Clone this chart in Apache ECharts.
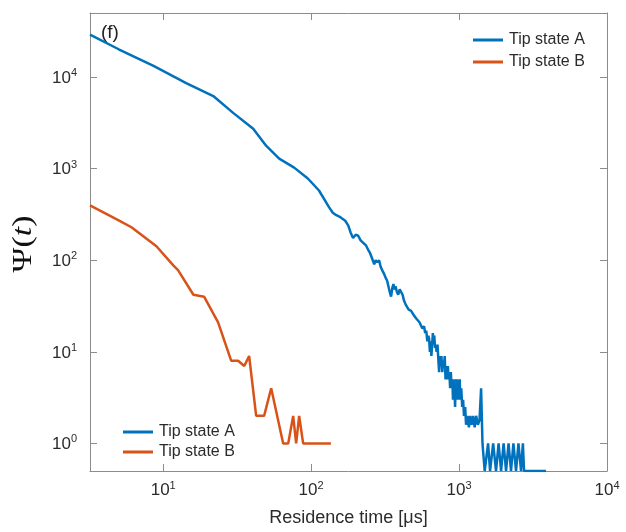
<!DOCTYPE html>
<html><head><meta charset="utf-8">
<script src="https://cdn.jsdelivr.net/npm/echarts@6/dist/echarts.min.js"></script>
<style>html,body{margin:0;padding:0;background:#fff}#c{width:626px;height:532px}</style>
</head><body><div id="c"></div>
<script>
// ---- data ----
const seriesNames = ['Tip state A', 'Tip state B'];
const xAxisTitle = 'Residence time [μs]';
const yAxisTitle = 'Ψ(t)';
const panelLabel = '(f)';
const xRange = [3.2, 10000];
const yRange = [0.5, 50000];

const timeA = [3.2, 5.0, 8.6, 14.3, 21.8, 29.7, 40.6, 49.6, 60.8, 76.8, 95, 113, 132, 140, 148, 155, 162, 170, 178, 185, 192, 200, 208, 216, 225, 235, 243, 250, 258, 267, 273, 280, 288, 295, 302, 310, 318, 326, 333, 340, 347, 354, 360, 366, 372, 380, 388, 397, 406, 415, 425, 435, 445, 455, 465, 474, 485, 495, 505, 515, 527, 540, 554, 565, 580, 590, 600, 610, 620, 627, 635, 642, 650, 658, 665, 672, 680, 688, 695, 705, 715, 725, 733, 742, 750, 760, 770, 780, 790, 800, 810, 820, 830, 840, 850, 860, 870, 880, 890, 900, 910, 920, 930, 940, 950, 960, 970, 980, 990, 1000, 1010, 1020, 1035, 1050, 1065, 1080, 1100, 1115, 1140, 1165, 1190, 1215, 1245, 1275, 1305, 1340, 1375, 1409, 1440, 1453, 1490, 1571, 1620, 1700, 1778, 1850, 1923, 2000, 2078, 2160, 2245, 2330, 2427, 2520, 2624, 2700, 2750, 3870];
const valuesA = [29000, 20100, 13200, 8600, 6200, 4060, 2720, 1780, 1285, 1025, 780, 577, 380, 330, 310, 300, 285, 270, 240, 200, 175, 190, 185, 165, 155, 145, 130, 120, 105, 90, 100, 95, 100, 85, 78, 72, 65, 60, 52, 45, 40, 50, 55, 48, 52, 45, 42, 48, 50, 42, 36, 33, 32, 29, 30, 28, 27, 25, 26, 23, 24, 21, 22, 18, 19, 16, 17, 13, 15, 14, 10, 13, 9, 12, 16, 13, 15, 11, 12, 10, 12, 8, 6, 9, 7, 9, 6, 8, 7, 9, 5, 7, 5, 7, 5, 6, 4, 6, 4, 5, 3, 5, 4, 2.5, 5, 3, 5, 3, 4, 3, 5, 3, 4, 2.5, 3, 2, 2.5, 1.6, 2, 1.5, 2, 1.6, 2, 1.5, 2, 1.6, 1.8, 4, 1, 1, 0.5, 1, 0.5, 1, 0.5, 1, 0.5, 1, 0.5, 1, 0.5, 1, 0.5, 1, 0.5, 1, 0.5, 0.5];

const timeB = [3.2, 5.0, 6.1, 9.0, 11.7, 12.6, 16.0, 18.9, 23.5, 28.8, 32.1, 35.3, 38.1, 42.5, 48.1, 53.7, 64.7, 70, 75.6, 79.2, 83, 88.3, 136];
const valuesB = [396, 272, 229, 142, 88, 78, 42, 40, 21, 8, 8, 7, 9, 2, 2, 4, 1, 1, 2, 1, 2, 1, 1];

// ---- chart ----
const blue = '#0072BD', red = '#D95319';
const frame = '#8c8c8c', txt = '#2b2b2b';
const font = 'Liberation Sans, Arial, sans-serif';
const serif = 'Liberation Serif, DejaVu Serif, serif';

function pairs(xs, ys) { return xs.map((x, i) => [x, ys[i]]); }
function decadeLabel(v) {
  const l = Math.log10(v), e = Math.round(l);
  if (Math.abs(l - e) > 1e-6) return '';
  return '{b|10}{e|' + e + '}';
}
const rich = {
  b: { fontSize: 17, color: txt, fontFamily: font, verticalAlign: 'bottom' },
  e: { fontSize: 11, color: txt, fontFamily: font, verticalAlign: 'bottom', padding: [0, 0, 8, 0] }
};
const tickStyle = { show: true, inside: true, length: 7, lineStyle: { color: frame, width: 1 } };
const lineStyleAxis = { show: true, lineStyle: { color: frame, width: 1 } };
const legendIcon = 'path://M0,0 L10,0 L10,1 L0,1 Z';

const chart = echarts.init(document.getElementById('c'), null, { renderer: 'canvas' });
chart.setOption({
  animation: false,
  backgroundColor: '#fff',
  grid: { left: 90, right: 19, top: 13, bottom: 61, containLabel: false },
  xAxis: [
    { type: 'log', logBase: 10, min: xRange[0], max: xRange[1], position: 'bottom',
      axisLine: lineStyleAxis, axisTick: tickStyle, splitLine: { show: false },
      axisLabel: { formatter: decadeLabel, rich: rich, margin: 9, showMinLabel: true, showMaxLabel: true },
      name: xAxisTitle, nameLocation: 'middle', nameGap: 38,
      nameTextStyle: { fontSize: 18, color: txt, fontFamily: font } },
    { type: 'log', logBase: 10, min: xRange[0], max: xRange[1], position: 'top',
      axisLine: lineStyleAxis, axisTick: tickStyle, splitLine: { show: false }, axisLabel: { show: false } }
  ],
  yAxis: [
    { type: 'log', logBase: 10, min: yRange[0], max: yRange[1], position: 'left',
      axisLine: lineStyleAxis, axisTick: tickStyle, splitLine: { show: false },
      axisLabel: { formatter: decadeLabel, rich: rich, margin: 13 } },
    { type: 'log', logBase: 10, min: yRange[0], max: yRange[1], position: 'right',
      axisLine: lineStyleAxis, axisTick: tickStyle, splitLine: { show: false }, axisLabel: { show: false } }
  ],
  legend: [
    { data: seriesNames, orient: 'vertical', left: 468, top: 26, itemWidth: 34, itemHeight: 3, itemGap: 4,
      icon: legendIcon, textStyle: { fontSize: 16, lineHeight: 18, color: txt, fontFamily: font, padding: [0, 0, 0, -1] }, selectedMode: false },
    { data: seriesNames, orient: 'vertical', left: 118, top: 418, itemWidth: 34, itemHeight: 3, itemGap: 2,
      icon: legendIcon, textStyle: { fontSize: 16, lineHeight: 18, color: txt, fontFamily: font, padding: [0, 0, 0, -1] }, selectedMode: false }
  ],
  graphic: [
    { type: 'text', left: 101, top: 23, style: { text: panelLabel, fontSize: 19, fill: '#222', fontFamily: font } },
    { type: 'text', x: 24, y: 244, rotation: Math.PI / 2, scaleX: 1.25,
      style: { text: '{p|Ψ}{q|(}{t|t}{q|)}', align: 'center', verticalAlign: 'middle',
        rich: {
          p: { fontSize: 27, fontFamily: serif, fill: '#111' },
          q: { fontSize: 27, fontFamily: serif, fill: '#111' },
          t: { fontSize: 27, fontFamily: serif, fontStyle: 'italic', fill: '#111' }
        } } }
  ],
  series: [
    { name: seriesNames[0], type: 'line', data: pairs(timeA, valuesA), symbol: 'none',
      lineStyle: { color: blue, width: 2.5 }, itemStyle: { color: blue }, xAxisIndex: 0, yAxisIndex: 0, z: 3 },
    { name: seriesNames[1], type: 'line', data: pairs(timeB, valuesB), symbol: 'none',
      lineStyle: { color: red, width: 2.5 }, itemStyle: { color: red }, xAxisIndex: 0, yAxisIndex: 0, z: 4 }
  ]
});
</script></body></html>
